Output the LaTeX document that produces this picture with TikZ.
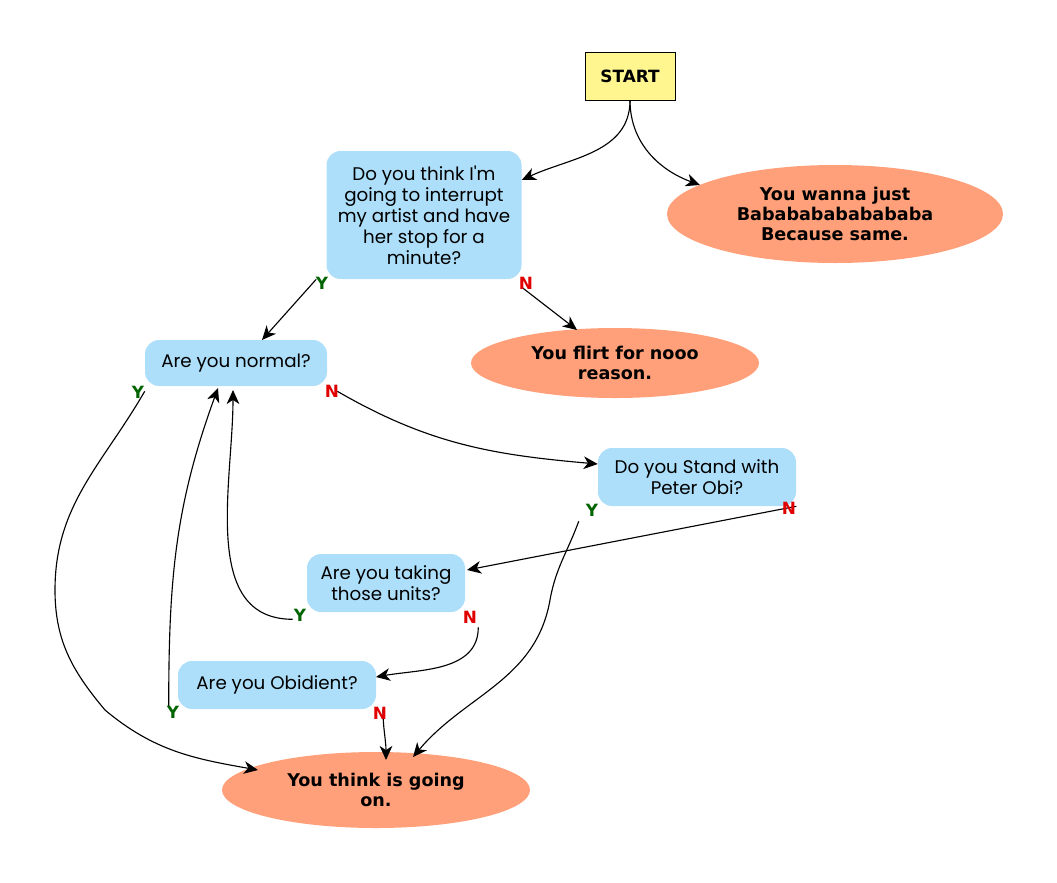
\documentclass[tikz,border=0pt]{standalone}
\usepackage{fontspec}
\setmainfont{DejaVu Sans}
\newfontfamily\askfont{Poppins}
\usetikzlibrary{shapes.geometric,arrows.meta}
\definecolor{startyellow}{HTML}{FFF68F}
\definecolor{askblue}{HTML}{ADDFFA}
\definecolor{endsalmon}{HTML}{FFA07A}
\definecolor{yesgreen}{HTML}{006400}
\definecolor{nored}{HTML}{E00000}
\begin{document}
\begin{tikzpicture}[x=0.025cm, y=-0.025cm]
  % Define block styles
  \tikzset{
    start/.style = {rectangle, draw, fill=startyellow, minimum width=90*0.025cm, minimum height=48*0.025cm, font=\bfseries\fontsize{12}{14}\selectfont},
    ask/.style = {rectangle, fill=askblue, rounded corners=10pt, align=center, inner sep=6pt, font=\askfont\fontsize{13}{15}\selectfont},
    stop/.style = {ellipse, fill=endsalmon, align=center, inner sep=0pt, font=\bfseries\fontsize{12.5}{14}\selectfont},
    line/.style = {draw, thick, -{Stealth[length=10pt, width=9pt, inset=3pt]}},
    yes/.style = {text=yesgreen, font=\bfseries\fontsize{12}{14}\selectfont},
    no/.style = {text=nored, font=\bfseries\fontsize{12}{14}\selectfont}
  }
  \useasboundingbox (0,0) rectangle (1057,882);

  % Place blocks
  \node [start] (start) at (630,76) {START};
  \node [ask, minimum width=195*0.025cm, minimum height=128*0.025cm] (artist) at (424,215) {Do you think I'm\\going to interrupt\\my artist and have\\her stop for a\\minute?};
  \node [stop, minimum width=336*0.025cm, minimum height=98*0.025cm] (baba) at (835,214) {You wanna just\\Babababababababa\\Because same.};
  \node [ask, minimum width=182*0.025cm, minimum height=46*0.025cm] (normal) at (236,363) {Are you normal?};
  \node [stop, minimum width=288*0.025cm, minimum height=70*0.025cm] (flirt) at (615,363) {You flirt for nooo\\reason.};
  \node [ask, minimum width=198*0.025cm, minimum height=58*0.025cm] (obi) at (697,477) {Do you Stand with\\Peter Obi?};
  \node [ask, minimum width=158*0.025cm, minimum height=58*0.025cm] (units) at (386,583) {Are you taking\\those units?};
  \node [ask, minimum width=198*0.025cm, minimum height=48*0.025cm] (obidient) at (277,685) {Are you Obidient?};
  \node [stop, minimum width=308*0.025cm, minimum height=76*0.025cm] (going) at (376,790) {You think is going\\on.};

  % Draw lines
  \path [line] (start.south) to[out=-90, in=25] (artist.east |- 0,180);
  \path [line] (start.south) to[out=-90, in=160] (700,185);
  \path [line] (artist.south west) ++(-10,0) -- (262,340);
  \path [line] (artist.south east) ++(0,8) -- (577,330);
  \path [line] (normal.south east) ++(10,5) to[out=-30, in=175] (obi.west |- 0,464);
  \path [line] (normal.south west) ++(0,5) to[out=-120, in=90] (55,590) to[out=-90, in=130] (105,710) to[out=-40, in=170] (258,770);
  \path [line] (obi.south west) ++(-19,15) to[out=-110, in=80] (550,600) to[out=-100, in=50] (413,757);
  \path [line] (obi.south east) -- (467,570);
  \path [line] (units.south west) ++(-14,7) to[out=180, in=-90] (233,390);
  \path [line] (units.south east) ++(13,15) to[out=-90, in=10] (376,677);
  \path [line] (obidient.south west) ++(-9,-3) to[out=90, in=-110] (218,388);
  \path [line] (obidient.south) ++(106,0) to[out=-90, in=90] (386,760);

  % Answer labels
  \node [yes] (y1) at (322,283) {Y};
  \node [no] (n1) at (526,283) {N};
  \node [yes] (y2) at (138,392) {Y};
  \node [no] (n2) at (332,391) {N};
  \node [yes] (y3) at (592,510) {Y};
  \node [no] (n3) at (789,508) {N};
  \node [yes] (y4) at (300,615) {Y};
  \node [no] (n4) at (470,617) {N};
  \node [yes] (y5) at (173,712) {Y};
  \node [no] (n5) at (380,713) {N};
\end{tikzpicture}
\end{document}
